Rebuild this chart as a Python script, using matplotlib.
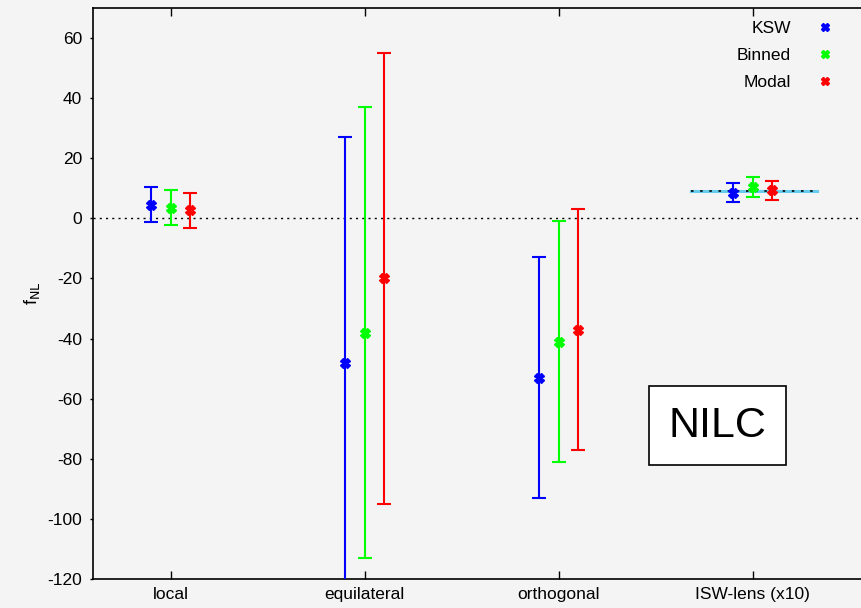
import matplotlib
matplotlib.use("Agg")
import matplotlib.pyplot as plt
from matplotlib.lines import Line2D
import numpy as np

plt.rcParams['font.family'] = ['Liberation Sans', 'DejaVu Sans']
plt.rcParams['axes.unicode_minus'] = False

categories = ["local", "equilateral", "orthogonal", "ISW-lens (x10)"]
series = ["KSW", "Binned", "Modal"]
colors = ["#0000ff", "#00ff00", "#ff0000"]
values = {
    "KSW":    [4.5, -48, -53, 8.5],
    "Binned": [3.5, -38, -41, 10.3],
    "Modal":  [2.7, -20, -37, 9.3],
}
errors = {
    "KSW":    [5.8, 75, 40, 3.2],
    "Binned": [5.8, 75, 40, 3.3],
    "Modal":  [5.8, 75, 40, 3.3],
}
isw_expected = 9.0
yticks = [-120, -100, -80, -60, -40, -20, 0, 20, 40, 60]

bg = "#f4f4f4"
fig = plt.figure(figsize=(8.61, 6.08), dpi=100, facecolor=bg)
ax = fig.add_axes([93/861, 29/608, 776/861, 571/608], facecolor=bg)

x = np.arange(1, len(categories) + 1)
offsets = [-0.1, 0.0, 0.1]

ax.axhline(0, color="black", lw=1, ls=(0, (1.5, 3)), zorder=1)
ax.plot([3.68, 4.33], [isw_expected, isw_expected], color="#66ccee", lw=2.2, zorder=1)
ax.plot([3.68, 4.33], [isw_expected, isw_expected], color="black", lw=1.2,
        ls=(0, (1.5, 4)), zorder=2)

handles = []
for s, c, off in zip(series, colors, offsets):
    ax.errorbar(x + off, values[s], yerr=errors[s], fmt="none", ecolor=c,
                elinewidth=1.5, capsize=5, capthick=1.5, zorder=3)
    ax.plot(x + off, values[s], ls="none", marker="X", ms=7, color=c,
            mec=c, zorder=4)
    handles.append(Line2D([], [], ls="none", marker="X", ms=6, color=c, mec=c))

ax.set_xlim(0.6, 4.6)
ax.set_ylim(-120, 70)
ax.set_xticks(x)
ax.set_xticklabels(categories)
ax.set_yticks(yticks)
ax.tick_params(direction="in", length=6, width=1, labelsize=12.5, top=True,
               right=False, pad=6)
ax.tick_params(axis="y", direction="out", length=2)
for sp in ["left", "top", "bottom"]:
    ax.spines[sp].set_linewidth(1.2)
ax.spines["right"].set_visible(False)

ax.set_ylabel(r"f$_{\mathrm{NL}}$", fontsize=13, labelpad=4)

leg = ax.legend(handles, series, loc="upper right", frameon=False,
                markerfirst=False, fontsize=12.5, handlelength=1.5,
                handletextpad=1.2, labelspacing=0.68,
                bbox_to_anchor=(0.98, 1.005))
for t in leg.get_texts():
    t.set_ha("right")

ax.text(3.82, -69, "NILC", fontsize=31, ha="center", va="center",
        zorder=5,
        bbox=dict(boxstyle="square,pad=0.45", fc="white", ec="black", lw=1.2))

fig.savefig("out.png", dpi=100, facecolor=bg)
